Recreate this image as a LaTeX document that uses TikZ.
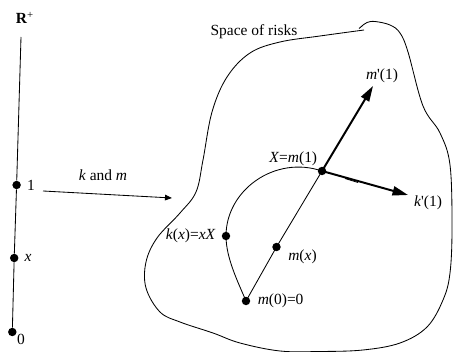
\documentclass[tikz,border=0pt]{standalone}
\usepackage{fontspec}
\setmainfont{Liberation Serif}
\usetikzlibrary{arrows.meta}

\tikzset{
  dot/.style={circle,fill=black,inner sep=0pt,minimum size=6pt},
  lab/.style={font=\fontsize{11}{13}\selectfont,inner sep=1pt},
  thinline/.style={line width=0.6pt},
  bigarrow/.style={line width=1.4pt,-{Triangle[length=11pt,width=6.5pt]}},
  smallarrow/.style={line width=0.6pt,-{Triangle[length=5pt,width=4pt]}}
}
\newcommand{\mi}[1]{\textit{#1}}

\begin{document}
\begin{tikzpicture}[x=0.025cm,y=-0.025cm]
  \useasboundingbox (0,0) rectangle (453,352);
  % the half line R+
  \node[lab] (rplus) at (25,18) {\textbf{R}\textsuperscript{+}};
  \coordinate (top) at (21,37);
  \node[dot,label={[lab,label distance=3pt]right:1}] (one) at (16.6,185) {};
  \node[dot,label={[lab,label distance=3pt]right:\mi{x}}] (ex) at (14.2,258) {};
  \node[dot,label={[lab,label distance=0pt,yshift=2pt]below right:0}] (zero) at (12.3,332) {};
  \draw[thinline] (top) -- (one) -- (ex) -- (zero);

  % the map k and m
  \coordinate (from) at (43,191);
  \coordinate (to) at (172,198);
  \draw[smallarrow] (from) -- (to);
  \node[lab] (kandm) at (103,175) {\mi{k} and \mi{m}};

  % space of risks
  \draw[thinline] plot[smooth,tension=0.6] coordinates {
    (362,26) (367,22.5) (375,21.5) (390,25) (400,33) (408,52) (423,106) (440,133)
    (450,165) (452,227) (450,273) (443,300) (427,327) (400,343) (363,350)
    (320,351.5) (280,351) (240,343) (213,333) (180,322) (160,312) (146,288)
    (146,262) (157,238) (180,213) (196,192) (203,160) (212,112) (227,77)
    (250,53) (280,42) (320,36) (364,30)};
  \draw[thinline] (362,26) -- (359,28.5);
  \node[lab] (space) at (254,32) {Space of risks};

  % the curves k and m
  \node[dot,label={[lab,label distance=0pt]above left:\mi{X}=\mi{m}(1)}] (X) at (322,171) {};
  \node[dot,label={[lab,label distance=3pt]left:\mi{k}(\mi{x})=\mi{xX}}] (kx) at (226,236) {};
  \node[dot,label={[lab,label distance=4pt,yshift=-7pt]right:\mi{m}(\mi{x})}] (mx) at (276.5,247) {};
  \node[dot,label={[lab,label distance=4pt]right:\mi{m}(0)=0}] (mzero) at (246,301) {};
  \draw[thinline] (mzero.center) -- (mx.center) -- (X.center);
  \draw[thinline] (mzero.center) .. controls (238,282) and (226,258) .. (kx.center)
    .. controls (226,190) and (275,155) .. (X.center);
  \draw[thinline] (345,178.5) -- (358,182.5);

  % derivatives
  \coordinate (mtip) at (373,86);
  \coordinate (ktip) at (408,195);
  \draw[bigarrow] (X.center) -- (mtip);
  \draw[bigarrow] (X.center) -- (ktip);
  \node[lab] (mprime) at (382,76) {\mi{m}\textquotesingle(1)};
  \node[lab] (kprime) at (428,203) {\mi{k}\textquotesingle(1)};
\end{tikzpicture}
\end{document}
